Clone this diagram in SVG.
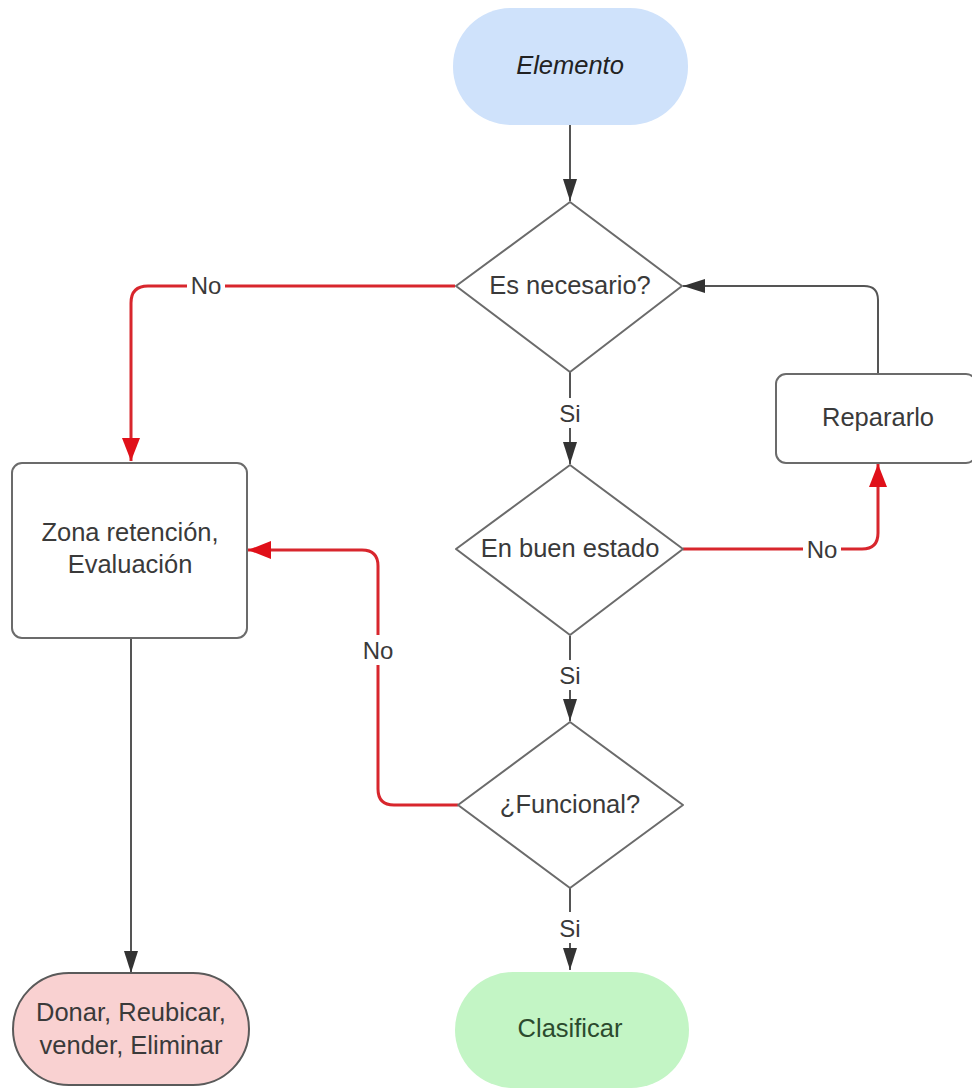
<svg xmlns="http://www.w3.org/2000/svg" width="972" height="1088" viewBox="0 0 972 1088">
  <style>
    .lbl { font-family: "Liberation Sans", Arial, sans-serif; font-size: 25.5px; fill: #3a3a3a; text-anchor: middle; dominant-baseline: central; }
    .box { fill: #ffffff; stroke: #6b6b6b; stroke-width: 2; }
    .dia { fill: #ffffff; stroke: #6b6b6b; stroke-width: 2; stroke-linejoin: round; }
    .gray { fill: none; stroke: #555; stroke-width: 2; }
    .red { fill: none; stroke: #d8262d; stroke-width: 3; }
    .edge-lbl { font-family: "Liberation Sans", Arial, sans-serif; font-size: 24px; fill: #3a3a3a; text-anchor: middle; dominant-baseline: central; }
    .bg { fill: #ffffff; }
  </style>
  <defs>
    <marker id="arrow-gray" viewBox="0 0 22 14" refX="22" refY="7" markerWidth="22" markerHeight="14" markerUnits="userSpaceOnUse" orient="auto">
      <path d="M0,0 L22,7 L0,14 Z" fill="#333"/>
    </marker>
    <marker id="arrow-red" viewBox="0 0 23 18" refX="23" refY="9" markerWidth="23" markerHeight="18" markerUnits="userSpaceOnUse" orient="auto">
      <path d="M0,0 L23,9 L0,18 Z" fill="#e01019"/>
    </marker>
  </defs>
  <rect width="972" height="1088" fill="#ffffff"/>

  <!-- connectors -->
  <g id="connectors">
    <path class="gray" d="M570,125 V201" marker-end="url(#arrow-gray)"/>

    <path class="gray" d="M570,372 V398"/>
    <path class="gray" d="M570,428 V464" marker-end="url(#arrow-gray)"/>

    <path class="gray" d="M570,636 V660"/>
    <path class="gray" d="M570,690 V721" marker-end="url(#arrow-gray)"/>

    <path class="gray" d="M570,888 V912"/>
    <path class="gray" d="M570,943 V970" marker-end="url(#arrow-gray)"/>

    <!-- Reparar back to first decision -->
    <path class="gray" d="M878,374 V300 Q878,286 864,286 H683" marker-end="url(#arrow-gray)"/>

    <!-- Zona to Donar -->
    <path class="gray" d="M131,638 V973" marker-end="url(#arrow-gray)"/>

    <!-- red "No" branches -->
    <path class="red" d="M455,286 H148 Q131,286 131,303 V461" marker-end="url(#arrow-red)"/>
    <path class="red" d="M683,549 H862 Q878,549 878,533 V464" marker-end="url(#arrow-red)"/>
    <path class="red" d="M458,805 H394 Q378,805 378,789 V566 Q378,550 362,550 H248" marker-end="url(#arrow-red)"/>

    <!-- edge labels -->
    <rect class="bg" x="187" y="272" width="38" height="26"/>
    <text class="edge-lbl" x="206" y="285">No</text>
    <rect class="bg" x="803" y="536" width="38" height="26"/>
    <text class="edge-lbl" x="822" y="549">No</text>
    <rect class="bg" x="360" y="635" width="36" height="30"/>
    <text class="edge-lbl" x="378" y="650">No</text>
    <text class="edge-lbl" x="570" y="413">Si</text>
    <text class="edge-lbl" x="570" y="675">Si</text>
    <text class="edge-lbl" x="570" y="928">Si</text>
  </g>

  <g id="elemento">
    <rect x="453" y="8" width="235" height="117" rx="58" fill="#cfe2fb"/>
    <text class="lbl" x="570" y="65" font-style="italic" style="fill:#222">Elemento</text>
  </g>

  <g id="es-necesario">
    <path class="dia" d="M570,202 L682,286 L570,372 L456,286 Z"/>
    <text class="lbl" x="570" y="285">Es necesario?</text>
  </g>

  <g id="en-buen-estado">
    <path class="dia" d="M570,465 L683,549 L570,635 L456,549 Z"/>
    <text class="lbl" x="570" y="548">En buen estado</text>
  </g>

  <g id="funcional">
    <path class="dia" d="M570,722 L683,805 L570,888 L458,805 Z"/>
    <text class="lbl" x="570" y="804">¿Funcional?</text>
  </g>

  <g id="reparar">
    <rect class="box" x="776" y="374" width="200" height="89" rx="10"/>
    <text class="lbl" x="878" y="417">Repararlo</text>
  </g>

  <g id="zona">
    <rect class="box" x="12" y="463" width="235" height="175" rx="10"/>
    <text class="lbl" x="130" y="532">Zona retención,</text>
    <text class="lbl" x="130" y="564">Evaluación</text>
  </g>

  <g id="donar">
    <rect x="13" y="973" width="236" height="112" rx="56" fill="#f9d1d1" stroke="#5a5a5a" stroke-width="2"/>
    <text class="lbl" x="131" y="1012">Donar, Reubicar,</text>
    <text class="lbl" x="131" y="1045">vender, Eliminar</text>
  </g>

  <g id="clasificar">
    <rect x="455" y="972" width="234" height="116" rx="58" fill="#c3f5c5"/>
    <text class="lbl" x="570" y="1028" style="fill:#2b4a2e">Clasificar</text>
  </g>
</svg>
